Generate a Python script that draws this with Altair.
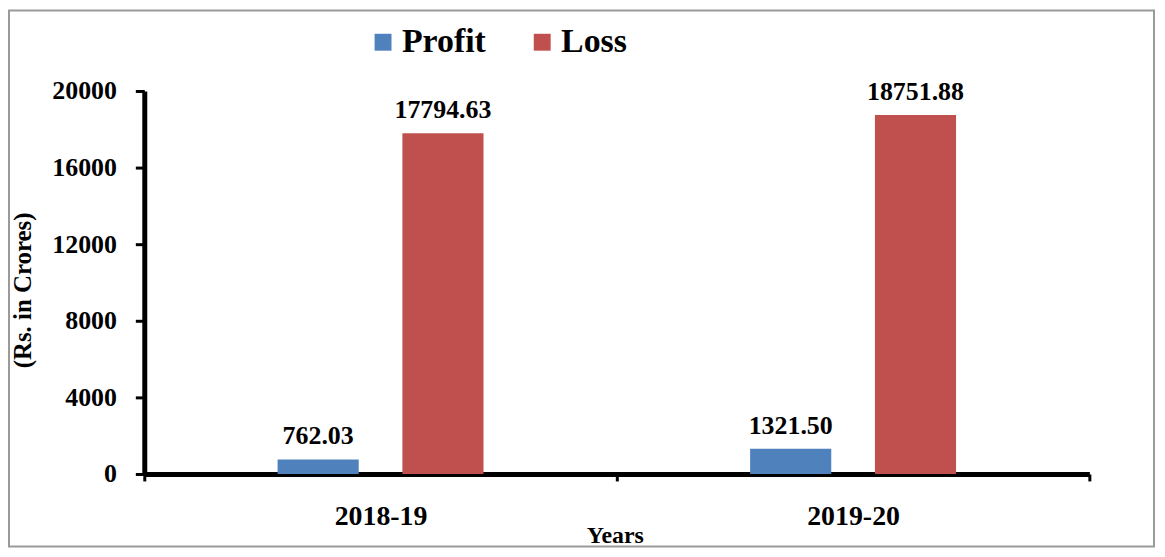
import altair as alt
import pandas as pd

years = ["2018-19", "2019-20"]
series = ["Profit", "Loss"]
profit = [762.03, 1321.50]
loss = [17794.63, 18751.88]
y_ticks = [0, 4000, 8000, 12000, 16000, 20000]
colors = ["#4F81BD", "#C0504D"]

rows = []
for i, yr in enumerate(years):
    rows.append({"Year": yr, "Series": "Profit", "Value": profit[i]})
    rows.append({"Year": yr, "Series": "Loss", "Value": loss[i]})
df = pd.DataFrame(rows)

FONT = "Liberation Serif"

x_enc = alt.X(
    "Year:N", sort=years,
    scale=alt.Scale(paddingInner=0, paddingOuter=0),
    axis=alt.Axis(
        title="Years", labelAngle=0, tickBand="extent",
        domainColor="black", domainWidth=5,
        tickColor="black", tickWidth=3, tickSize=7,
        labelFont=FONT, labelFontSize=28, labelFontWeight="bold", labelColor="black",
        labelPadding=22,
        titleFont=FONT, titleFontSize=24, titleFontWeight="bold", titleColor="black",
        titleX=473, titleY=62, titleBaseline="middle",
    ),
)
xo_enc = alt.XOffset("Series:N", sort=series,
                     scale=alt.Scale(range=[134, 341], paddingInner=0.35, paddingOuter=0))
y_enc = alt.Y(
    "Value:Q",
    scale=alt.Scale(domain=[0, 20000], nice=False),
    axis=alt.Axis(
        values=y_ticks, grid=False, title="(Rs. in Crores)", format="d",
        domainColor="black", domainWidth=5,
        tickColor="black", tickWidth=3, tickSize=9,
        labelFont=FONT, labelFontSize=26, labelFontWeight="bold", labelColor="black",
        labelPadding=19,
        titleFont=FONT, titleFontSize=25, titleFontWeight="bold", titleColor="black",
        titleX=-122, titleY=200, titleBaseline="middle",
    ),
)
color_enc = alt.Color(
    "Series:N", sort=series,
    scale=alt.Scale(domain=series, range=colors),
    legend=alt.Legend(
        title=None, orient="none", legendX=223, legendY=-66, direction="horizontal",
        labelFont=FONT, labelFontSize=34, labelFontWeight="bold", labelColor="black",
        symbolType="square", symbolSize=289, symbolStrokeWidth=0,
        columnPadding=39, labelOffset=2, padding=0,
    ),
)

base = alt.Chart(df)
bars = base.mark_bar().encode(x=x_enc, xOffset=xo_enc, y=y_enc, color=color_enc)
labels = base.mark_text(
    font=FONT, fontSize=26, fontWeight="bold", color="black",
    baseline="alphabetic", dy=-15,
).encode(x=x_enc, xOffset=xo_enc, y=y_enc, text=alt.Text("Value:Q", format=".2f"))

border = alt.Chart(pd.DataFrame({"a": [0]})).mark_rect(
    filled=False, stroke="#9a9a9a", strokeWidth=2
).encode(x=alt.value(-136), x2=alt.value(1015), y=alt.value(-81), y2=alt.value(458))

chart = alt.layer(border, bars, labels).properties(
    width=950, height=385,
    padding={"left": 137, "top": 82, "right": 68, "bottom": 74},
    autosize=alt.AutoSizeParams(type="none"),
    view=alt.ViewBackground(strokeOpacity=0, strokeWidth=0),
).configure_view(strokeOpacity=0, strokeWidth=0).configure(background="white")

chart.save("out.html", embed_options={"renderer": "svg", "actions": False})
